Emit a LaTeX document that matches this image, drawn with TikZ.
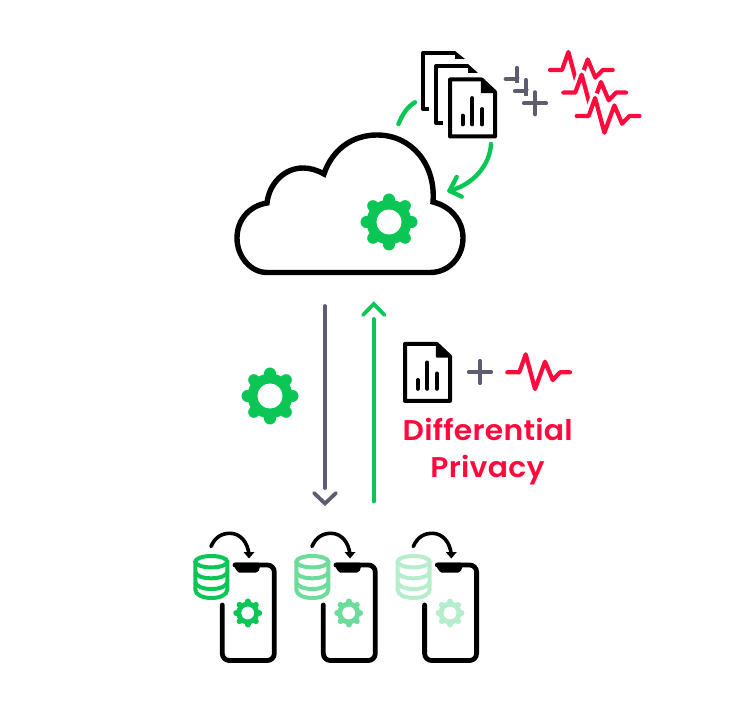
\documentclass[tikz,border=0pt]{standalone}
\usepackage{fontspec}
\setmainfont{Poppins}[BoldFont={Poppins SemiBold},BoldFeatures={FakeStretch=1.045,LetterSpace=1.0}]
\definecolor{gr}{HTML}{0AC655}
\definecolor{grb}{HTML}{6DDC9A}
\definecolor{grc}{HTML}{B6EECD}
\definecolor{gy}{HTML}{5E5D70}
\definecolor{rd}{HTML}{FF0A3D}
\newcommand{\gearicon}[4]{%
  \fill[#4] (#1,#2) circle [radius=0.79*#3];
  \foreach \a in {0,45,...,315}
    \draw[#4,line width=0.4*#3 pt,line cap=round] ($(#1,#2)+(\a:0.6*#3)$) -- ($(#1,#2)+(\a:0.8*#3)$);
  \fill[white] (#1,#2) circle [radius=0.44*#3];
}
\newcommand{\pulse}[3][]{%
  \begin{scope}[shift={(#2,#3)}]
    \draw[#1] (507.3,372.3) -- (519.3,372.3) -- (525.7,354.3) -- (535,389) -- (545,361.7) -- (552.7,380) -- (560,372.3) -- (570,372.3);
  \end{scope}}
\newcommand{\docicon}[2]{%
  \begin{scope}[shift={(#1,#2)}]
    \draw[line width=4,line join=round] (481.7,79.5) -- (450,79.5) -- (450,136.5) -- (495,136.5) -- (495,92) -- cycle;
    \fill[draw=black,line width=1.5,line join=round] (481.7,79.5) -- (495,92.5) -- (481.7,92.5) -- cycle;
    \draw[line width=3.8,line cap=round] (462.7,115.5) -- (462.7,124.5) (472.3,98) -- (472.3,124.5) (482,109) -- (482,124.5);
  \end{scope}}
\newcommand{\plusicon}[3][11]{%
  \draw[gy,line width=4.2,line cap=round] (#2-#1,#3) -- (#2+#1,#3) (#2,#3-#1) -- (#2,#3+#1);}
\newcommand{\plushalo}[2]{%
  \draw[white,line width=15,line cap=round] (#1-11,#2) -- (#1+11,#2) (#1,#2-11) -- (#1,#2+11);}
\newcommand{\phoneunit}[2]{%
  \begin{scope}[shift={(#1,0)}]
    \draw[line width=4.8,line cap=round,rounded corners=7] (235,565) -- (274.3,565) -- (274.3,660.5) -- (222.3,660.5) -- (222.3,605);
    \fill[rounded corners=2] (234,562.6) -- (260,562.6) -- (260,569) .. controls (258,571.5) and (256,572.5) .. (254,572.5) -- (241,572.5) .. controls (238,572.5) and (236,570) .. (234,566) -- cycle;
    \draw[line width=3.6,line cap=round] (211,546.5) .. controls (215,537) and (222,533.3) .. (230,533.3) .. controls (240,533.3) and (248,542) .. (249,555);
    \fill (243.5,552) -- (254.5,552) -- (249,558.5) -- cycle;
    \begin{scope}[#2,line width=4]
      \draw (211.3,561.7) ellipse [x radius=16,y radius=5.7];
      \draw (195.3,561.7) -- (195.3,589.5) .. controls (195.3,595) and (203,598) .. (211.3,598) .. controls (219.6,598) and (227.3,595) .. (227.3,589.5) -- (227.3,561.7);
      \draw (195.3,572) .. controls (196,576) and (203,578.3) .. (211.3,578.3) .. controls (219.6,578.3) and (226.6,576) .. (227.3,572);
      \draw (195.3,582) .. controls (196,586.5) and (203,589) .. (211.3,589) .. controls (219.6,589) and (226.6,586.5) .. (227.3,582);
    \end{scope}
    \gearicon{247.7}{613}{14.5}{#2}
  \end{scope}}
\usetikzlibrary{calc}
\begin{document}
\begin{tikzpicture}[x=1pt,y=-1pt]
\useasboundingbox (0,0) rectangle (740,714);
\tikzset{halo/.style={white,line width=10,line join=round,line cap=round},
  redline/.style={rd,line width=4.2,line join=round,line cap=round}}
% cloud
\draw[line width=5.4,line join=miter]
 (267,272.5) -- (430,272.5) .. controls (449,272.5) and (463,257) .. (463,238)
 .. controls (463,220) and (450,206) .. (433,202)
 .. controls (436,165) and (412,135) .. (377,135)
 .. controls (352,135) and (332,150) .. (324,174)
 .. controls (317,170) and (310,168) .. (303,168)
 .. controls (284,168) and (269,184) .. (267,203)
 .. controls (249,206) and (237,220) .. (237,238)
 .. controls (237,257) and (251,272.5) .. (267,272.5) -- cycle;
\gearicon{389}{222}{28.5}{gr}
% documents
\draw[line width=4,line join=round,line cap=butt] (429,109) -- (423,109) -- (423,53) -- (455,53);
\fill (455,51) -- (465,59) -- (455,59) -- cycle;
\draw[line width=4,line join=round,line cap=butt] (443,123) -- (436,123) -- (436,66) -- (468,66);
\fill (468,64) -- (478,73) -- (468,73) -- cycle;
\docicon{0}{0}
% green arcs
\coordinate (arcA) at (415,102.3);
\coordinate (arcB) at (398.5,124);
\coordinate (arcC) at (491,144);
\coordinate (arcD) at (449.5,190.7);
\draw[gr,line width=4.4,line cap=round] (arcA) .. controls (407,107) and (402,115) .. (arcB);
\draw[gr,line width=4.4,line cap=round,line join=round] (arcC) .. controls (490,165) and (473,185) .. (arcD);
\draw[gr,line width=4.4,line cap=round,line join=round] (456.7,177) -- (arcD) -- (461.7,196.7);
% pluses
\plusicon{516.7}{79}
\plushalo{526}{91}
\plusicon{526}{91}
\plushalo{535}{103.3}
\plusicon{535}{103.3}
% top pulses
\pulse[redline]{42.7}{-302.3}
\pulse[halo]{56}{-279.7}
\pulse[redline]{56}{-279.7}
\pulse[halo]{69.4}{-256.3}
\pulse[redline]{69.4}{-256.3}
% arrows
\coordinate (grayS) at (325,306);
\coordinate (grayE) at (325,488);
\coordinate (grayT) at (325,503.5);
\draw[gy,line width=3.8,line cap=round] (grayS) -- (grayE);
\draw[gy,line width=3.8,line cap=round,line join=miter] (314,493) -- (grayT) -- (336,493);
\coordinate (greenS) at (373.7,501.5);
\coordinate (greenE) at (373.7,319);
\coordinate (greenT) at (373.7,304);
\draw[gr,line width=3.8,line cap=round] (greenS) -- (greenE);
\draw[gr,line width=3.8,line cap=round,line join=miter] (363,315) -- (greenT) -- (384.5,315);
\gearicon{270}{396}{28.5}{gr}
% middle formula
\docicon{-45}{264.4}
\plusicon{480}{372}
\pulse[redline]{0}{0}
\node[rd,font=\bfseries\fontsize{28.5}{28.5}\selectfont,anchor=base,inner sep=0] (dp1) at (487.7,440) {Differential};
\node[rd,font=\bfseries\fontsize{28.5}{28.5}\selectfont,anchor=base,inner sep=0] (dp2) at (487.5,477.5) {Privacy};
% phones
\phoneunit{0}{gr}
\phoneunit{101}{grb}
\phoneunit{202.3}{grc}
\end{tikzpicture}
\end{document}
